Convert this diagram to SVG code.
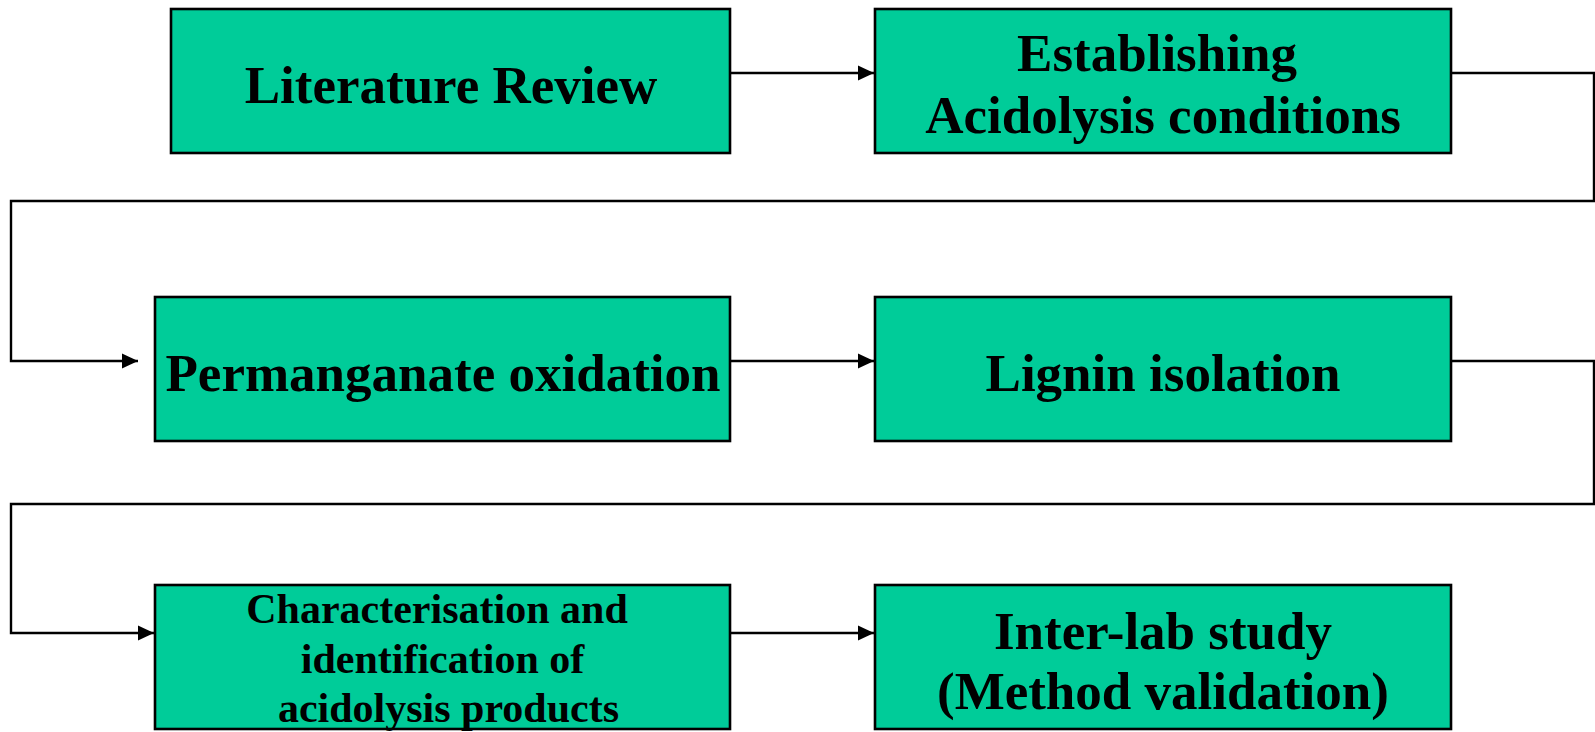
<svg xmlns="http://www.w3.org/2000/svg" width="1595" height="732" viewBox="0 0 1595 732">
<style>
.box{fill:#00CC99;stroke:#000;stroke-width:2.6}
.t{font-family:"Liberation Serif","Times New Roman",serif;font-weight:bold;font-size:53px;fill:#000;text-anchor:middle}
.s{font-size:42px}
.c{fill:none;stroke:#000;stroke-width:2.4}
</style>
<defs>
<marker id="ah" markerUnits="userSpaceOnUse" markerWidth="16" markerHeight="16" viewBox="0 0 16 16" refX="16" refY="8" orient="auto">
<path d="M0,0.5 L16,8 L0,15.5 Z" fill="#000"/>
</marker>
</defs>
<g id="connectors">
<path class="c" d="M730,73 H874" marker-end="url(#ah)"/>
<path class="c" d="M1451,73 H1594 V201 H11 V361 H138" marker-end="url(#ah)"/>
<path class="c" d="M730,361 H874" marker-end="url(#ah)"/>
<path class="c" d="M1451,361 H1594 V504 H11 V633 H154" marker-end="url(#ah)"/>
<path class="c" d="M730,633 H874" marker-end="url(#ah)"/>
</g>
<g id="n1"><rect class="box" x="171" y="9" width="559" height="144"/><text class="t" x="451" y="103">Literature Review</text></g>
<g id="n2"><rect class="box" x="875" y="9" width="576" height="144"/><text class="t" x="1157" y="71">Establishing</text><text class="t" x="1163" y="133">Acidolysis conditions</text></g>
<g id="n3"><rect class="box" x="155" y="297" width="575" height="144"/><text class="t" x="443" y="391">Permanganate oxidation</text></g>
<g id="n4"><rect class="box" x="875" y="297" width="576" height="144"/><text class="t" x="1163" y="391">Lignin isolation</text></g>
<g id="n5"><rect class="box" x="155" y="585" width="575" height="144"/><text class="t s" x="437" y="623">Characterisation and</text><text class="t s" x="442.5" y="673">identification of</text><text class="t s" x="448.5" y="722">acidolysis products</text></g>
<g id="n6"><rect class="box" x="875" y="585" width="576" height="144"/><text class="t" x="1163" y="649">Inter-lab study</text><text class="t" x="1163" y="709">(Method validation)</text></g>
</svg>
